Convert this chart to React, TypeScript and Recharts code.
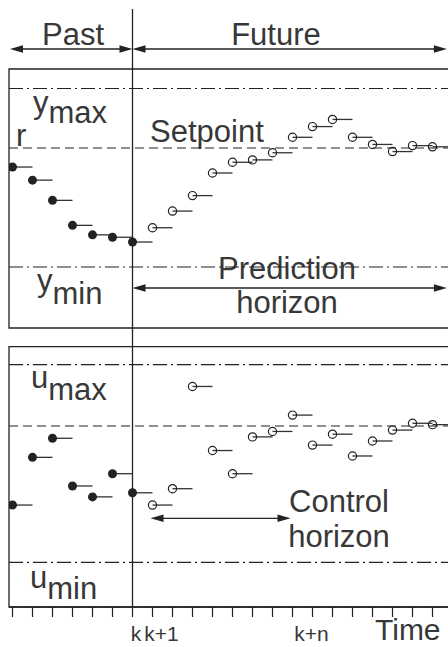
import React from "react";
import {
  ComposedChart,
  Scatter,
  XAxis,
  YAxis,
  ReferenceLine,
  ReferenceArea,
} from "recharts";

// time steps relative to the current instant k (= 0)
const pastSteps = [-6, -5, -4, -3, -2, -1, 0];
const futureSteps = [1, 2, 3, 4, 5, 6, 7, 8, 9, 10, 11, 12, 13, 14, 15];

// measured / predicted output y (r = 1, y_min = 0)
const pastOutput = [0.84, 0.73, 0.56, 0.35, 0.27, 0.25, 0.21];
const futureOutput = [0.33, 0.47, 0.6, 0.79, 0.88, 0.9, 0.96, 1.09, 1.18, 1.24, 1.09, 1.03, 0.97, 1.02, 1.01];

// applied / planned input u (u_min = 0, steady input = 1)
const pastInput = [0.42, 0.77, 0.91, 0.56, 0.48, 0.65, 0.51];
const futureInput = [0.42, 0.54, 1.29, 0.82, 0.65, 0.92, 0.96, 1.08, 0.86, 0.94, 0.78, 0.89, 0.97, 1.02, 1.01];

// constraint and reference levels
const outputLevels = [0, 1, 1.5]; // y_min, setpoint r, y_max
const inputLevels = [0, 1, 1.45]; // u_min, steady input, u_max

// time axis
const tickSteps = [-6, -5, -4, -3, -2, -1, 0, 1, 2, 3, 4, 5, 6, 7, 8, 9, 10, 11, 12, 13, 14, 15, 16];
const tickLabelSteps = [0, 1, 9];
const tickLabelTexts = ["k", "k+1", "k+n"];

// horizons (in steps)
const controlHorizon = [0.9, 7.9];
const predictionHorizon = [0, 15.72];

// ---- layout ----
const W = 460;
const H = 647;
const PLOT_TOP = 9;
const PLOT_BOTTOM = 607;
const PLOT_LEFT = 9;
const X_DOMAIN: [number, number] = [-6.175, 16.375];

const INK = "#222";
const TEXT = "#383838";
const FONT = "'Liberation Sans', Arial, Helvetica, sans-serif";

// pixel rows of two levels -> axis domain over the whole plot height
function makeAxis(v1: number, p1: number, v2: number, p2: number) {
  const k = (p1 - p2) / (v2 - v1);
  const domain: [number, number] = [v1 - (PLOT_BOTTOM - p1) / k, v1 + (p1 - PLOT_TOP) / k];
  const at = (px: number) => v1 + (p1 - px) / k;
  return { domain, at };
}

const top = makeAxis(outputLevels[0], 267, outputLevels[1], 148);
const bot = makeAxis(inputLevels[0], 562.3, inputLevels[1], 426);

const pastOut = pastSteps.map((t, i) => ({ t, v: pastOutput[i] }));
const futOut = futureSteps.map((t, i) => ({ t, v: futureOutput[i] }));
const pastIn = pastSteps.map((t, i) => ({ t, v: pastInput[i] }));
const futIn = futureSteps.map((t, i) => ({ t, v: futureInput[i] }));

const FilledDot = (p: any) => <circle cx={p.cx} cy={p.cy} r={4.5} fill={INK} />;
const OpenDot = (p: any) => (
  <circle cx={p.cx} cy={p.cy} r={4.1} fill="none" stroke={INK} strokeWidth={1.2} />
);

const Arrow = (p: any) => {
  const { x1, y1, x2 } = p;
  const L = 13;
  const h = 3.7;
  return (
    <g>
      <line x1={x1 + L - 1} y1={y1} x2={x2 - L + 1} y2={y1} stroke={INK} strokeWidth={1.3} />
      <polygon points={`${x1},${y1} ${x1 + L},${y1 - h} ${x1 + L},${y1 + h}`} fill={INK} />
      <polygon points={`${x2},${y1} ${x2 - L},${y1 - h} ${x2 - L},${y1 + h}`} fill={INK} />
    </g>
  );
};

const StepTick = (p: any) => {
  const i = tickLabelSteps.indexOf(p.payload.value);
  if (i < 0) return null;
  const nudge = [3.5, 9, -1][i];
  return (
    <text x={p.x + nudge} y={641} textAnchor="middle" fontSize={21} fill={TEXT} fontFamily={FONT}>
      {tickLabelTexts[i]}
    </text>
  );
};

const holds = (pts: { t: number; v: number }[], axisId: string) =>
  pts.map((d) => (
    <ReferenceLine
      key={`${axisId}-${d.t}`}
      yAxisId={axisId}
      segment={[
        { x: d.t, y: d.v },
        { x: d.t + 1, y: d.v },
      ]}
      stroke="#333"
      strokeWidth={1.3}
    />
  ));

const dashDot = "14 4 2 4";
const dashed = "9 5";

export default function App() {
  return (
    <div
      style={{
        position: "absolute",
        left: 0,
        top: 0,
        width: 448,
        height: 647,
        overflow: "hidden",
        background: "#fff",
        fontFamily: FONT,
      }}
    >
      <ComposedChart
        width={W}
        height={H}
        margin={{ top: PLOT_TOP, right: 0, bottom: 0, left: PLOT_LEFT }}
      >
        <XAxis
          type="number"
          dataKey="t"
          domain={X_DOMAIN}
          allowDataOverflow
          ticks={tickSteps}
          interval={0}
          height={H - PLOT_BOTTOM}
          tickSize={10}
          tickLine={{ stroke: INK, strokeWidth: 1.2 }}
          axisLine={{ stroke: INK, strokeWidth: 1.3 }}
          tick={<StepTick />}
        />
        <YAxis yAxisId="y" type="number" domain={top.domain} allowDataOverflow hide />
        <YAxis yAxisId="u" type="number" domain={bot.domain} allowDataOverflow hide />

        {/* panel frames */}
        <ReferenceArea yAxisId="y" y1={top.at(328)} y2={top.at(69)} fill="none" stroke={INK} strokeWidth={1.3} fillOpacity={0} />
        <ReferenceArea yAxisId="u" y1={bot.domain[0]} y2={bot.at(346.7)} fill="none" stroke={INK} strokeWidth={1.3} fillOpacity={0} />

        {/* constraints and references */}
        <ReferenceLine yAxisId="y" y={outputLevels[2]} stroke={INK} strokeWidth={1.2} strokeDasharray={dashDot} />
        <ReferenceLine yAxisId="y" y={outputLevels[1]} stroke={INK} strokeWidth={1.2} strokeDasharray={dashed} />
        <ReferenceLine yAxisId="y" y={outputLevels[0]} stroke={INK} strokeWidth={1.2} strokeDasharray={dashDot} />
        <ReferenceLine yAxisId="u" y={inputLevels[2]} stroke={INK} strokeWidth={1.2} strokeDasharray={dashDot} />
        <ReferenceLine yAxisId="u" y={inputLevels[1]} stroke={INK} strokeWidth={1.2} strokeDasharray={dashed} />
        <ReferenceLine yAxisId="u" y={inputLevels[0]} stroke={INK} strokeWidth={1.2} strokeDasharray={dashDot} />

        {/* current instant k */}
        <ReferenceLine yAxisId="y" x={0} stroke={INK} strokeWidth={1.3} />

        {/* past / future / horizons */}
        <ReferenceLine
          yAxisId="y"
          segment={[
            { x: -6.125, y: top.at(49) },
            { x: 0, y: top.at(49) },
          ]}
          shape={Arrow}
        />
        <ReferenceLine
          yAxisId="y"
          segment={[
            { x: predictionHorizon[0], y: top.at(49) },
            { x: predictionHorizon[1], y: top.at(49) },
          ]}
          shape={Arrow}
        />
        <ReferenceLine
          yAxisId="y"
          segment={[
            { x: predictionHorizon[0], y: top.at(288) },
            { x: predictionHorizon[1], y: top.at(288) },
          ]}
          shape={Arrow}
        />
        <ReferenceLine
          yAxisId="u"
          segment={[
            { x: controlHorizon[0], y: bot.at(518.3) },
            { x: controlHorizon[1], y: bot.at(518.3) },
          ]}
          shape={Arrow}
        />

        {holds([...pastOut, ...futOut], "y")}
        {holds([...pastIn, ...futIn], "u")}

        <Scatter yAxisId="y" data={pastOut} dataKey="v" shape={FilledDot} isAnimationActive={false} />
        <Scatter yAxisId="y" data={futOut} dataKey="v" shape={OpenDot} isAnimationActive={false} />
        <Scatter yAxisId="u" data={pastIn} dataKey="v" shape={FilledDot} isAnimationActive={false} />
        <Scatter yAxisId="u" data={futIn} dataKey="v" shape={OpenDot} isAnimationActive={false} />

        <g fontFamily={FONT} fill={TEXT}>
          <text x={73} y={45} fontSize={31} textAnchor="middle">Past</text>
          <text x={276} y={45} fontSize={31} textAnchor="middle">Future</text>
          <text x={33} y={113} fontSize={31}>
            y<tspan dy={10}>max</tspan>
          </text>
          <text x={16} y={146} fontSize={31}>r</text>
          <text x={150} y={142} fontSize={31}>Setpoint</text>
          <text x={37} y={291} fontSize={31}>
            y<tspan dy={13}>min</tspan>
          </text>
          <text x={287} y={279} fontSize={31} textAnchor="middle">Prediction</text>
          <text x={287} y={313} fontSize={31} textAnchor="middle">horizon</text>
          <text x={31} y={388} fontSize={31}>
            u<tspan dy={12}>max</tspan>
          </text>
          <text x={30} y={588} fontSize={31}>
            u<tspan dy={11}>min</tspan>
          </text>
          <text x={339} y={512} fontSize={31} textAnchor="middle">Control</text>
          <text x={339} y={547} fontSize={31} textAnchor="middle">horizon</text>
          <text x={375} y={640} fontSize={30}>Time</text>
        </g>
      </ComposedChart>
    </div>
  );
}
